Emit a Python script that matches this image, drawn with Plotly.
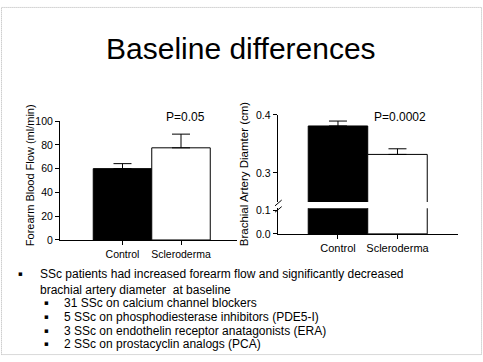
import plotly.graph_objects as go

W, H = 483, 362
FONT = "Liberation Sans, Arial, sans-serif"

# ---------------- data ----------------
categories = ["Control", "Scleroderma"]
flow_mean = [60, 77.5]
flow_err = [4.2, 11.5]
diam_mean = [0.381, 0.332]
diam_err = [0.0085, 0.0097]
bar_colors = ["black", "white"]

flow_ticks = [0, 20, 40, 60, 80, 100]
diam_upper_ticks = [0.3, 0.4]
diam_upper_labels = ["0.3", "0.4"]
diam_lower_ticks = [0.0, 0.1]
diam_lower_labels = ["0.0", "0.1"]

p_flow = "P=0.05"
p_diam = "P=0.0002"

title_text = "Baseline differences"
main_bullets = ["SSc patients had increased forearm flow and significantly decreased",
                "brachial artery diameter  at baseline"]
sub_bullets = ["31 SSc on calcium channel blockers",
               "5 SSc on phosphodiesterase inhibitors (PDE5-I)",
               "3 SSc on endothelin receptor anatagonists (ERA)",
               "2 SSc on prostacyclin analogs (PCA)"]


def px(x):
    return x / W


def py(y):
    return 1 - y / H


fig = go.Figure()

# left chart: forearm blood flow
fig.add_trace(go.Bar(
    x=categories, y=flow_mean, width=1,
    marker=dict(color=bar_colors, line=dict(color="black", width=1)),
    error_y=dict(type="data", array=flow_err, arrayminus=[0, 0], symmetric=False,
                 color="black", thickness=1, width=9),
    xaxis="x", yaxis="y", showlegend=False, hoverinfo="skip"))

# right chart: brachial artery diameter, upper part of broken axis
fig.add_trace(go.Bar(
    x=categories, y=diam_mean, width=1,
    marker=dict(color=bar_colors, line=dict(color="black", width=1)),
    error_y=dict(type="data", array=diam_err, arrayminus=[0, 0], symmetric=False,
                 color="black", thickness=1, width=9),
    xaxis="x3", yaxis="y3", showlegend=False, hoverinfo="skip"))

# right chart lower part of broken axis
fig.add_trace(go.Bar(
    x=categories, y=diam_mean, width=1,
    marker=dict(color=bar_colors, line=dict(color="black", width=1)),
    xaxis="x4", yaxis="y4", showlegend=False, hoverinfo="skip"))

axis_common = dict(showline=True, linecolor="black", linewidth=1, ticks="outside",
                   ticklen=4, tickcolor="black", tickwidth=1, showgrid=False,
                   zeroline=False, fixedrange=True)

left_x_range = [-1.068, 1.957]
right_x_range = [-1.013, 2.017]

fig.update_layout(
    width=W, height=H,
    margin=dict(l=0, r=0, t=0, b=0),
    paper_bgcolor="white", plot_bgcolor="rgba(0,0,0,0)",
    bargap=0,
    font=dict(family=FONT, color="black"),
    xaxis=dict(domain=[px(60), px(237)], range=left_x_range, anchor="y",
               tickfont=dict(size=10.5), **axis_common),
    yaxis=dict(domain=[py(242), py(119)], range=[0, 100], anchor="x",
               tickvals=flow_ticks, tickfont=dict(size=10.5), **axis_common),
    xaxis3=dict(domain=[px(277.7), px(458)], range=right_x_range, anchor="y3",
                visible=False, fixedrange=True),
    yaxis3=dict(domain=[py(202.7), py(112.7)], range=[0.25, 0.4], anchor="x3",
                tickvals=diam_upper_ticks, ticktext=diam_upper_labels,
                tickfont=dict(size=10.5), **axis_common),
    xaxis4=dict(domain=[px(277.7), px(458)], range=right_x_range, anchor="y4",
                tickfont=dict(size=11), **axis_common),
    yaxis4=dict(domain=[py(235.7), py(209.3)], range=[0, 0.11], anchor="x4",
                tickvals=diam_lower_ticks, ticktext=diam_lower_labels,
                tickfont=dict(size=10.5), **axis_common),
)

ann = []
ann.append(dict(x=px(241), y=py(44), text=title_text, font=dict(size=30)))
ann.append(dict(x=px(185), y=py(115), text=p_flow, font=dict(size=12)))
ann.append(dict(x=px(400), y=py(115), text=p_diam, font=dict(size=12)))
ann.append(dict(x=px(30), y=py(175), text="Forearm Blood Flow (ml/min)",
                textangle=-90, font=dict(size=11)))
ann.append(dict(x=px(244), y=py(174), text="Brachial Artery Diamter (cm)",
                textangle=-90, font=dict(size=11.5)))

main_y = [276.7, 293.3]
for i, t in enumerate(main_bullets):
    ann.append(dict(x=px(38.3), y=py(main_y[i]), text=t, xanchor="left",
                    font=dict(size=12)))
ann.append(dict(x=px(20.7), y=py(main_y[0]), text="\u25aa",
                font=dict(size=7, family="DejaVu Sans")))
sub_y = [306.7, 321.5, 336, 350]
for i, t in enumerate(sub_bullets):
    ann.append(dict(x=px(61.7), y=py(sub_y[i]), text=t, xanchor="left",
                    font=dict(size=12)))
    ann.append(dict(x=px(46.7), y=py(sub_y[i]), text="\u25aa",
                    font=dict(size=7, family="DejaVu Sans")))

for a in ann:
    a.setdefault("xanchor", "center")
    a.update(xref="paper", yref="paper", showarrow=False, yanchor="middle")
fig.update_layout(annotations=ann)

shapes = []
# slide border (dotted)
shapes.append(dict(type="rect", xref="paper", yref="paper",
                   x0=px(1.5), x1=px(481.5), y0=py(360.5), y1=py(1.5),
                   line=dict(color="#b4b4b4", width=1, dash="1px,1px")))
# axis break marks
for (x0, y0, x1, y1) in [(275, 206.7, 281.7, 200.7), (275, 213.3, 281.7, 207.5)]:
    shapes.append(dict(type="line", xref="paper", yref="paper",
                       x0=px(x0), y0=py(y0), x1=px(x1), y1=py(y1),
                       line=dict(color="black", width=1)))
fig.update_layout(shapes=shapes)

fig.write_html("out.html",
               config={"displayModeBar": False, "staticPlot": True},
               post_script="document.body.style.margin='0';"
                           "document.body.style.padding='0';"
                           "document.body.style.overflow='hidden';")
